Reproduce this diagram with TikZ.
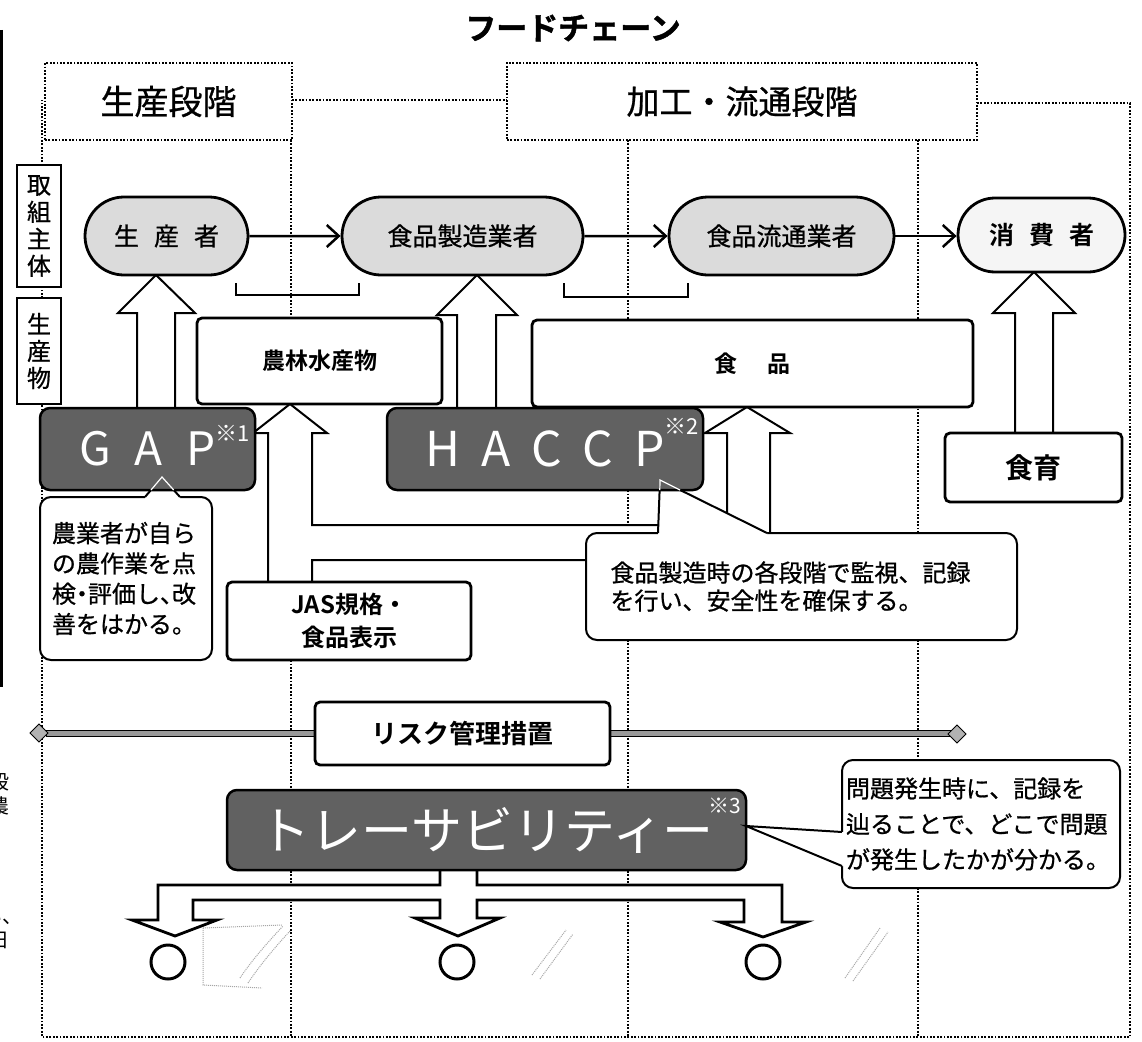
\documentclass[tikz,border=0pt]{standalone}
\usepackage{fontspec}
\setmainfont{Noto Sans CJK JP}
\newfontfamily\jpb{Noto Sans CJK JP Bold}
\newfontfamily\jpbb[FakeBold=1.5]{Noto Sans CJK JP Bold}
\newfontfamily\jpm[FakeBold=0.8]{Noto Sans CJK JP}
\usetikzlibrary{arrows.meta,shapes.misc}
\newcommand\myfs[1]{\fontsize{#1}{#1}\selectfont}
\newcommand\myfsb[2]{\fontsize{#1}{#2}\selectfont}
\tikzset{
 dotln/.style={line width=2.6, dash pattern=on 1.8pt off 1.6pt},
 stagebox/.style={draw, line width=2.2, dash pattern=on 1.8pt off 1.6pt, fill=white, inner sep=0},
 actor/.style={draw, line width=2.8, rounded rectangle, fill=black!14, inner sep=0, minimum height=78},
 prodbox/.style={draw, line width=2.8, rounded corners=5, fill=white, inner sep=0, align=center},
 sidelab/.style={draw, line width=1.8, fill=white, inner sep=0, minimum width=44, align=center},
 darkbox/.style={draw=black, line width=2.5, rounded corners=10, fill=black!62, text=white, inner sep=0},
 note/.style={draw, line width=2, fill=white, rounded corners=11, inner sep=0, align=left},
 blk/.style={draw, line width=2, fill=white, line join=miter},
 flow/.style={line width=2.5, -{Straight Barb[length=12pt,width=22pt,line width=2.5pt]}},
 faint/.style={black!35, densely dotted, line width=1},
}
\begin{document}
\begin{tikzpicture}[x=1pt,y=-1pt]
\useasboundingbox (0,0) rectangle (1142,1041);
\fill[white] (0,0) rectangle (1142,1041);

% frame and column dividers
\draw[dotln] (292,100) -- (507,100);
\draw[dotln] (977,103) -- (1130,103) -- (1130,1037) -- (42,1037) -- (42,100);
\draw[dotln] (291,140) -- (291,1037);
\draw[dotln] (628,140) -- (628,1037);
\draw[dotln] (918,140) -- (918,1037);

% left cut-off panel
\draw[line width=3] (1.5,30) -- (1.5,687);
\begin{scope}
\clip (0,760) rectangle (15,960);
\node[font=\myfs{20}] at (0,782) {段};
\node[font=\myfs{20}] at (0,806) {農};
\node[font=\myfs{20}, anchor=east] at (26,917) {い、};
\node[font=\myfs{20}] at (0,940) {日};
\end{scope}

% risk band
\draw[line width=0.8, fill=black!40] (46,730.5) rectangle (950,736.5);
\draw[line width=0.8, fill=black!30] (39,724) -- (48,733) -- (39,742) -- (30,733) -- cycle;
\draw[line width=0.8, fill=black!30] (957,725) -- (966,734) -- (957,743) -- (948,734) -- cycle;

% block arrows
\draw[blk] (137,408) -- (137,313) -- (118,313) -- (156,275) -- (195,313) -- (175,313) -- (175,408);
\draw[blk] (457,408) -- (457,315) -- (437,315) -- (477,275) -- (517,315) -- (496,315) -- (496,408);
\draw[blk] (1015,433) -- (1015,313) -- (993,313) -- (1034,272) -- (1075,313) -- (1053,313) -- (1053,433);
\draw[blk] (268,582) -- (268,433) -- (253,433) -- (290,404) -- (327,433) -- (312,433) -- (312,525)
  -- (727,525) -- (727,433) -- (705,433) -- (747,407) -- (790,433) -- (770,433) -- (770,560)
  -- (312,560) -- (312,582);
\draw[blk, line width=2.8] (440,870) -- (440,885) -- (158,885) -- (158,920) -- (132,920) -- (175,936) -- (217,920)
  -- (193,920) -- (193,900) -- (440,900) -- (440,918) -- (415,918) -- (458,936) -- (500,918)
  -- (477,918) -- (477,900) -- (744,900) -- (744,922) -- (720,922) -- (763,937) -- (806,922)
  -- (782,922) -- (782,885) -- (477,885) -- (477,870);

% title and stages
\node[font=\jpbb\myfs{31}] (title) at (573,28) {フードチェーン};
\node[stagebox, minimum width=247, minimum height=77, font=\jpm\myfs{34}] (s1) at (168.5,101.5) {生産段階};
\node[stagebox, minimum width=470, minimum height=77, font=\jpm\myfs{33}] (s2) at (742,101.5) {加工・流通段階};

% side labels
\node[sidelab, minimum height=122, font=\jpm\myfsb{24}{27}] (lab1) at (39,226) {取\\組\\主\\体};
\node[sidelab, minimum height=106, font=\jpm\myfsb{24}{27}] (lab2) at (39,351) {生\\産\\物};

% actors
\node[actor, minimum width=163, font=\jpm\myfs{25}] (p1) at (166.5,236) {生\hspace{15pt}産\hspace{15pt}者};
\node[actor, minimum width=241, font=\jpm\myfs{25}] (p2) at (462.5,236) {食品製造業者};
\node[actor, minimum width=225, font=\jpm\myfs{25}] (p3) at (781.5,236) {食品流通業者};
\node[actor, minimum width=167, minimum height=74, fill=black!4, font=\jpb\myfs{25}] (p4) at (1041.5,235) {消\hspace{15pt}費\hspace{15pt}者};
\draw[flow] (p1) -- (p2);
\draw[flow] (p2) -- (p3);
\draw[flow] (p3.east) -- (p3.east -| p4.west);

% brackets
\draw[line width=2] (236,283) -- (236,295) -- (359,295) -- (359,283);
\draw[line width=2] (564,283) -- (564,297) -- (688,297) -- (688,283);

% product / measure boxes
\node[prodbox, minimum width=245, minimum height=86, font=\jpb\myfs{23}] (n1) at (319.5,361) {農林水産物};
\node[prodbox, minimum width=441, minimum height=87, font=\jpb\myfs{23}] (n2) at (752.5,363.5) {食\hspace{31pt}品};
\node[prodbox, minimum width=177, minimum height=69, font=\jpb\myfs{28}] (iku) at (1033.5,467.5) {食育};
\node[prodbox, minimum width=244, minimum height=78, font=\jpb\myfsb{24}{33}] (jas) at (349,621) {JAS規格・\\食品表示};
\node[prodbox, minimum width=295, minimum height=63, font=\jpb\myfs{26}] (risk) at (462.5,733.5) {リスク管理措置};

% GAP and its note
\node[note, minimum width=172, minimum height=163, text width=148, font=\jpm\myfsb{24}{30.3}] (gapnote) at (126,578.5)
  {農業者が自ら\\の農作業を点\\検\kern-6pt・\kern-6pt評価し、\kern-12pt改\\善をはかる。};
\fill[white] (145,500) -- (145,497) -- (162,477) -- (180,497) -- (180,500) -- cycle;
\draw[line width=2] (145,497) -- (162,477) -- (180,497);
\node[darkbox, minimum width=215, minimum height=82, font=\myfs{46}] (gap) at (147.5,449)
  {G\hspace{24pt}A\hspace{24pt}P\rlap{\smash{\raisebox{24pt}{\myfs{22}※1}}}};
\draw[white, line width=1.2] (151,490) -- (162,477) -- (173.7,490);

% HACCP and its note
\node[note, minimum width=431, minimum height=107, text width=382, font=\jpm\myfsb{24}{28}] (hnote) at (801.5,586.5)
  {食品製造時の各段階で監視、記録\\を行い、安全性を確保する。};
\fill[white] (658,536) -- (658,533) -- (660,480) -- (767,533) -- (767,536) -- cycle;
\draw[line width=2] (658,533) -- (660,480) -- (767,533);
\node[darkbox, minimum width=316, minimum height=82, font=\myfs{48}] (haccp) at (545,449)
  {H\hspace{21pt}A\hspace{21pt}C\hspace{21pt}C\hspace{21pt}P\rlap{\smash{\raisebox{32pt}{\myfs{22}※2}}}};
\draw[white, line width=1.2] (659.8,490) -- (660,480) -- (680,490);

% traceability and its note
\node[darkbox, minimum width=519, minimum height=80, font=\myfs{51}] (trace) at (486.5,830)
  {トレーサビリティー\rlap{\smash{\kern-5pt\raisebox{36pt}{\myfs{21}※3}}}};
\node[note, minimum width=278, minimum height=128, text width=270, font=\jpm\myfsb{24}{35.5}] (tnote) at (981,824)
  {問題発生時に、記録を\\辿ることで、どこで問題\\が発生したかが分かる。};
\fill[white] (845,832) -- (842,832) -- (746,826) -- (842,866) -- (845,866) -- cycle;
\draw[line width=2] (842,832) -- (746,826) -- (842,866);

% circles
\node[draw, line width=3, circle, minimum size=34, inner sep=0] (c1) at (168,962) {};
\node[draw, line width=3, circle, minimum size=34, inner sep=0] (c2) at (457,962) {};
\node[draw, line width=3, circle, minimum size=34, inner sep=0] (c3) at (763,962) {};

% faint scan marks
\draw[faint] (203,928) -- (203,985) -- (262,988);
\draw[faint] (203,928) -- (282,925);
\draw[faint] (240,978) .. controls (252,960) and (268,942) .. (283,926);
\draw[faint] (248,983) .. controls (260,965) and (276,946) .. (290,931);
\draw[faint] (532,975) -- (566,930);
\draw[faint] (540,979) -- (573,934);
\draw[faint] (845,978) -- (880,928);
\draw[faint] (853,981) -- (888,932);
\end{tikzpicture}
\end{document}
